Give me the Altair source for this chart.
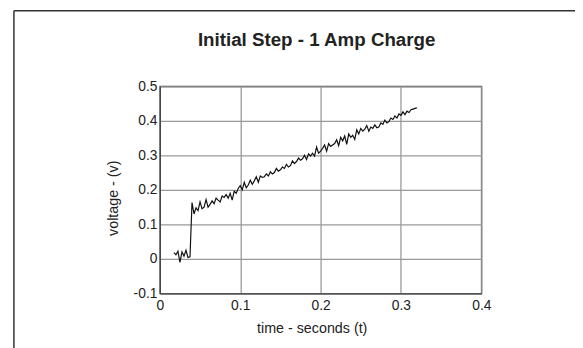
import altair as alt
import pandas as pd

TITLE = "Initial Step - 1 Amp Charge"
X_TITLE = "time - seconds (t)"
Y_TITLE = "voltage - (v)"
x_ticks = [0, 0.1, 0.2, 0.3, 0.4]
y_ticks = [-0.1, 0, 0.1, 0.2, 0.3, 0.4, 0.5]

time_s = [
    0.0175, 0.0200, 0.0225, 0.0250, 0.0275, 0.0300, 0.0325, 0.0350, 0.0375, 0.0400,
    0.0425, 0.0450, 0.0475, 0.0500, 0.0525, 0.0550, 0.0575, 0.0600, 0.0625, 0.0650,
    0.0675, 0.0700, 0.0725, 0.0750, 0.0775, 0.0800, 0.0825, 0.0850, 0.0875, 0.0900,
    0.0925, 0.0950, 0.0975, 0.1000, 0.1025, 0.1050, 0.1075, 0.1100, 0.1125, 0.1150,
    0.1175, 0.1200, 0.1225, 0.1250, 0.1275, 0.1300, 0.1325, 0.1350, 0.1375, 0.1400,
    0.1425, 0.1450, 0.1475, 0.1500, 0.1525, 0.1550, 0.1575, 0.1600, 0.1625, 0.1650,
    0.1675, 0.1700, 0.1725, 0.1750, 0.1775, 0.1800, 0.1825, 0.1850, 0.1875, 0.1900,
    0.1925, 0.1950, 0.1975, 0.2000, 0.2025, 0.2050, 0.2075, 0.2100, 0.2125, 0.2150,
    0.2175, 0.2200, 0.2225, 0.2250, 0.2275, 0.2300, 0.2325, 0.2350, 0.2375, 0.2400,
    0.2425, 0.2450, 0.2475, 0.2500, 0.2525, 0.2550, 0.2575, 0.2600, 0.2625, 0.2650,
    0.2675, 0.2700, 0.2725, 0.2750, 0.2775, 0.2800, 0.2825, 0.2850, 0.2875, 0.2900,
    0.2925, 0.2950, 0.2975, 0.3000, 0.3025, 0.3050, 0.3075, 0.3100, 0.3125, 0.3150,
    0.3175, 0.3200,
]

voltage = [
    0.018, 0.012, 0.022, -0.010, 0.020, 0.008, 0.025, 0.004, 0.006, 0.163,
    0.130, 0.148, 0.140, 0.165, 0.145, 0.150, 0.172, 0.150, 0.158, 0.168,
    0.160, 0.176, 0.170, 0.165, 0.182, 0.178, 0.186, 0.176, 0.190, 0.170,
    0.196, 0.190, 0.204, 0.212, 0.200, 0.222, 0.206, 0.214, 0.228, 0.216,
    0.226, 0.238, 0.222, 0.240, 0.236, 0.238, 0.246, 0.240, 0.252, 0.246,
    0.250, 0.262, 0.254, 0.258, 0.266, 0.262, 0.274, 0.266, 0.270, 0.284,
    0.276, 0.282, 0.292, 0.286, 0.290, 0.300, 0.288, 0.304, 0.298, 0.306,
    0.298, 0.324, 0.306, 0.312, 0.320, 0.330, 0.312, 0.334, 0.326, 0.330,
    0.334, 0.345, 0.328, 0.352, 0.342, 0.356, 0.332, 0.362, 0.352, 0.358,
    0.346, 0.374, 0.362, 0.378, 0.370, 0.376, 0.386, 0.370, 0.382, 0.378,
    0.388, 0.380, 0.382, 0.394, 0.390, 0.402, 0.394, 0.398, 0.408, 0.404,
    0.414, 0.408, 0.420, 0.416, 0.426, 0.418, 0.428, 0.424, 0.432, 0.434,
    0.436, 0.438,
]

df = pd.DataFrame({"t": time_s, "v": voltage})
FONT = "Liberation Sans"
LABEL_EXPR = ("abs(datum.value) < 1e-9 ? '0' : (datum.value < 0 ? '-' + format(-datum.value, '.1f')"
              " : format(datum.value, '.1f'))")

line = alt.Chart(df).mark_line(color="#111111", strokeWidth=1.2).encode(
    x=alt.X(
        "t:Q",
        scale=alt.Scale(domain=[0, 0.4], nice=False, zero=False),
        axis=alt.Axis(
            values=x_ticks, title=X_TITLE, ticks=False, labelExpr=LABEL_EXPR,
            labelPadding=5, labelFlush=False, labelOverlap=False,
            titleX=154, titleY=36, titleBaseline="middle",
        ),
    ),
    y=alt.Y(
        "v:Q",
        scale=alt.Scale(domain=[-0.1, 0.5], nice=False, zero=False),
        axis=alt.Axis(
            values=y_ticks, title=Y_TITLE, ticks=False, labelExpr=LABEL_EXPR,
            labelPadding=3, labelFlush=False, labelOverlap=False,
            titleX=-47, titleY=113, titleBaseline="middle",
        ),
    ),
)

frame_df = pd.DataFrame({"label": [TITLE]})
left_edge = alt.Chart(frame_df).mark_rule(color="#333333", strokeWidth=1.5).encode(
    x=alt.value(-148), y=alt.value(-76.5), y2=alt.value(270)
)
top_edge = alt.Chart(frame_df).mark_rule(color="#333333", strokeWidth=1.5).encode(
    x=alt.value(-148), x2=alt.value(430), y=alt.value(-76.5)
)
title_text = alt.Chart(frame_df).mark_text(
    font=FONT, fontSize=19, fontWeight="bold", color="#222222",
    align="center", baseline="alphabetic",
).encode(x=alt.value(159), y=alt.value(-40.5), text="label:N")

chart = alt.layer(left_edge, top_edge, title_text, line).properties(
    width=326,
    height=210,
    background="white",
    autosize=alt.AutoSizeParams(type="none"),
    padding={"left": 154, "top": 77, "right": 95, "bottom": 53},
).configure_view(
    stroke="#444444", strokeWidth=1.3
).configure_axis(
    labelFont=FONT, titleFont=FONT, labelFontSize=14, titleFontSize=14.5,
    labelColor="#222222", titleColor="#222222", titleFontWeight="normal",
    gridColor="#999999", gridWidth=1.3, gridOpacity=1,
    domainColor="#444444", domainWidth=1.3,
)

chart.save("out.html", embed_options={"renderer": "svg", "actions": False})
